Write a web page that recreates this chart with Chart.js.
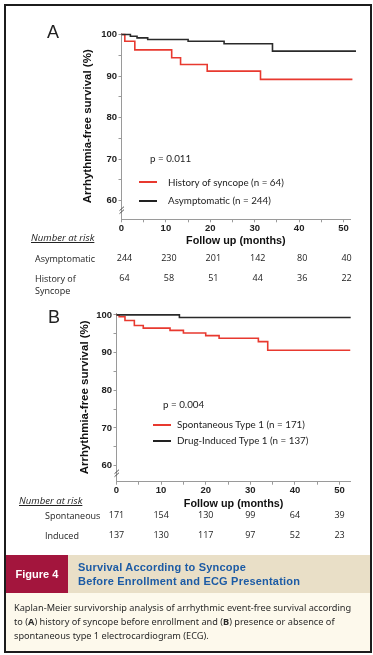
<!DOCTYPE html>
<html>
<head>
<meta charset="utf-8">
<script src="https://cdn.jsdelivr.net/npm/chart.js@4.4.1/dist/chart.umd.min.js"></script>
<style>
  html, body { margin: 0; padding: 0; background: #fff; }
  body { width: 373px; height: 655px; position: relative; overflow: hidden; font-family: 'Open Sans', sans-serif; color: #222; }
  .frame { position: absolute; left: 4px; top: 4px; width: 368px; height: 649px; border: 2px solid #1c1c1c; box-sizing: border-box; }
  canvas { position: absolute; left: 0; }
  .t { position: absolute; white-space: nowrap; line-height: 1; }
  .panel { font-family: 'Liberation Sans', Arial, sans-serif; font-size: 18px; }
  .pval, .leg { font-family: 'Lato', sans-serif; font-size: 9.8px; color: #222; }
  .sw { position: absolute; height: 2px; }
  .risk-h { font-size: 9.6px; font-style: italic; text-decoration: underline; }
  .risk { font-size: 9px; }
  .fig-box { position: absolute; left: 6px; top: 555px; width: 62px; height: 38px; background: #a3153d; color: #fff;
             font: bold 11px 'Liberation Sans', Arial, sans-serif; display: flex; align-items: center; justify-content: center; }
  .fig-bar { position: absolute; left: 68px; top: 555px; width: 302px; height: 38px; background: #e9dfc7; }
  .fig-title { position: absolute; left: 78px; top: 560px; font: bold 11px/14px 'Liberation Sans', Arial, sans-serif; color: #1c5ba5; letter-spacing: 0.2px; }
  .fig-cap-bg { position: absolute; left: 6px; top: 593px; width: 364px; height: 58px; background: #fdf9ec; }
  .fig-cap { position: absolute; left: 14px; top: 601px; font: 9.2px/14px 'Noto Sans', sans-serif; color: #2a2a2a; white-space: nowrap; }
</style>
</head>
<body>
<canvas id="chartA" width="373" height="300" style="top:0"></canvas>
<canvas id="chartB" width="373" height="250" style="top:300px"></canvas>

<div class="t panel" style="left:47px;top:23px">A</div>
<div class="t panel" style="left:48px;top:308px">B</div>

<div class="t pval" style="left:150px;top:154px">p = 0.011</div>
<div class="sw" style="left:139px;top:181px;width:18px;background:#e8392f"></div>
<div class="t leg" style="left:168px;top:177.5px">History of syncope (n = 64)</div>
<div class="sw" style="left:139px;top:199.5px;width:18px;background:#222"></div>
<div class="t leg" style="left:168px;top:196px">Asymptomatic (n = 244)</div>

<div class="t pval" style="left:163px;top:400px">p = 0.004</div>
<div class="sw" style="left:153px;top:424px;width:18px;background:#e8392f"></div>
<div class="t leg" style="left:177px;top:420px">Spontaneous Type 1 (n = 171)</div>
<div class="sw" style="left:153px;top:439.5px;width:18px;background:#222"></div>
<div class="t leg" style="left:177px;top:435.5px">Drug-Induced Type 1 (n = 137)</div>

<div class="t risk-h" style="left:31px;top:233px">Number at risk</div>
<div class="t risk" style="left:35px;top:253.5px">Asymptomatic</div>
<div class="t risk" style="left:35px;top:274px">History of</div>
<div class="t risk" style="left:35px;top:286px">Syncope</div>

<div class="t risk-h" style="left:19px;top:495.5px">Number at risk</div>
<div class="t risk" style="left:45px;top:511px">Spontaneous</div>
<div class="t risk" style="left:45px;top:530.5px">Induced</div>

<div class="fig-bar"></div>
<div class="fig-box">Figure 4</div>
<div class="fig-title">Survival According to Syncope<br>Before Enrollment and ECG Presentation</div>
<div class="fig-cap-bg"></div>
<div class="fig-cap">Kaplan-Meier survivorship analysis of arrhythmic event-free survival according<br>to (<b>A</b>) history of syncope before enrollment and (<b>B</b>) presence or absence of<br>spontaneous type 1 electrocardiogram (ECG).</div>

<div class="frame"></div>

<script>
// axis ticks (minor every 5, labelled every 10)
const X_TICKS = [0, 5, 10, 15, 20, 25, 30, 35, 40, 45, 50];
const Y_TICKS = [60, 65, 70, 75, 80, 85, 90, 95, 100];
const RISK_TIMES = [0, 10, 20, 30, 40, 50];

// Panel A: history of syncope vs asymptomatic
const A_SYNCOPE_T = [0, 0.75, 3, 11.3, 13.3, 19.3, 31.3, 52];
const A_SYNCOPE_S = [100, 98.4, 96.3, 94.4, 92.8, 91.2, 89.2, 89.2];
const A_ASYMPT_T = [0, 2, 3.5, 5.9, 15, 23.1, 34, 52.8];
const A_ASYMPT_S = [100, 99.6, 99.2, 98.8, 98.4, 97.8, 96.0, 96.0];
const A_RISK_ASYMPT = [244, 230, 201, 142, 80, 40];
const A_RISK_SYNCOPE = [64, 58, 51, 44, 36, 22];

// Panel B: spontaneous vs drug-induced type 1
const B_SPONT_T = [0, 0.6, 1.9, 4.0, 6.0, 12.0, 15.0, 20.0, 23.0, 31.8, 33.9, 52.4];
const B_SPONT_S = [100, 99.5, 98.5, 97.2, 96.5, 95.9, 95.2, 94.5, 93.8, 92.9, 90.6, 90.6];
const B_DRUG_T = [0, 14.1, 52.5];
const B_DRUG_S = [100, 99.3, 99.3];
const B_RISK_SPONT = [171, 154, 130, 99, 64, 39];
const B_RISK_INDUCED = [137, 130, 117, 97, 52, 23];

const RED = '#e8392f';
const BLACK = '#2a2a2a';
const AXIS = '#9a9a9a';
const TICK_FONT = { family: "'Liberation Sans', Arial, sans-serif", size: 9.5, weight: 'bold' };
const TITLE_FONT = { family: "'Liberation Sans', Arial, sans-serif", size: 11.5, weight: 'bold' };

// numbers at risk, placed under the x ticks
const riskTable = {
  id: 'riskTable',
  afterDraw(chart, args, opts) {
    const { ctx, scales: { x } } = chart;
    ctx.save();
    ctx.font = "9px 'Open Sans', sans-serif";
    ctx.fillStyle = '#222';
    ctx.textAlign = 'center';
    ctx.textBaseline = 'middle';
    opts.rows.forEach((row, r) => {
      row.forEach((n, i) => ctx.fillText(String(n), x.getPixelForValue(RISK_TIMES[i]) + opts.dx, opts.y[r]));
    });
    ctx.restore();
  }
};

// "//" break on the y axis below 60
const axisBreak = {
  id: 'axisBreak',
  afterDraw(chart, args, opts) {
    const { ctx, scales: { y } } = chart;
    const px = y.left + y.width;
    const py = y.getPixelForValue(opts.at);
    ctx.save();
    ctx.strokeStyle = '#555';
    ctx.lineWidth = 1;
    [-1.5, 1.5].forEach(d => {
      ctx.beginPath();
      ctx.moveTo(px - 2, py + d + 2);
      ctx.lineTo(px + 2.5, py + d - 2);
      ctx.stroke();
    });
    ctx.restore();
  }
};

function kmChart(id, o) {
  return new Chart(document.getElementById(id), {
    type: 'line',
    data: {
      datasets: o.series.map(s => ({
        data: s.t.map((t, i) => ({ x: t, y: s.s[i] })),
        borderColor: s.color,
        borderWidth: 1.6,
        pointRadius: 0,
        stepped: 'before',
        fill: false,
        clip: false,
      }))
    },
    options: {
      responsive: false,
      animation: false,
      events: [],
      layout: { padding: o.pad },
      plugins: {
        legend: { display: false },
        tooltip: { enabled: false },
        riskTable: o.risk,
        axisBreak: { at: o.breakAt },
      },
      scales: {
        x: {
          type: 'linear', min: 0, max: o.xMax,
          afterBuildTicks: s => { s.ticks = X_TICKS.map(v => ({ value: v })); },
          afterFit: s => { s.height = 30; },
          border: { color: AXIS, width: 1 },
          grid: { drawOnChartArea: false, tickLength: 3, color: AXIS },
          ticks: { padding: 0, color: '#222', font: TICK_FONT, maxRotation: 0, autoSkip: false,
                   callback: v => v % 10 === 0 ? v : '' },
          title: { display: true, text: 'Follow up (months)', color: '#111',
                   font: { ...TITLE_FONT, size: 10.8 }, padding: { top: 0, bottom: 1.3 } }
        },
        y: {
          type: 'linear', min: o.yMin, max: o.yMax,
          afterBuildTicks: s => { s.ticks = Y_TICKS.map(v => ({ value: v })); },
          afterFit: s => { s.width = o.yW; },
          border: { color: AXIS, width: 1 },
          grid: { drawOnChartArea: false, tickLength: 3, color: AXIS },
          ticks: { padding: 1.5, color: '#222', font: TICK_FONT, callback: v => v % 10 === 0 ? v : '' },
          title: { display: true, text: 'Arrhythmia-free survival (%)', color: '#111',
                   font: TITLE_FONT, padding: { top: o.yTitlePad, bottom: 0 } }
        }
      }
    },
    plugins: [riskTable, axisBreak]
  });
}

kmChart('chartA', {
  series: [
    { t: A_ASYMPT_T, s: A_ASYMPT_S, color: BLACK },
    { t: A_SYNCOPE_T, s: A_SYNCOPE_S, color: RED },
  ],
  xMax: 51.5, yMin: 55.5, yMax: 100.3,
  pad: { left: 74, right: 22.8, top: 33.3, bottom: 50.7 },
  yW: 47.5, yTitlePad: 7.1, breakAt: 57.7,
  risk: { rows: [A_RISK_ASYMPT, A_RISK_SYNCOPE], y: [258.3, 278.7], dx: 3 },
});

kmChart('chartB', {
  series: [
    { t: B_DRUG_T, s: B_DRUG_S, color: BLACK },
    { t: B_SPONT_T, s: B_SPONT_S, color: RED },
  ],
  xMax: 52.5, yMin: 55.75, yMax: 100.5,
  pad: { left: 70, right: 22.3, top: 13, bottom: 38.3 },
  yW: 46.5, yTitlePad: 8.1, breakAt: 58,
  risk: { rows: [B_RISK_SPONT, B_RISK_INDUCED], y: [215.7, 235], dx: 0 },
});
</script>
</body>
</html>
